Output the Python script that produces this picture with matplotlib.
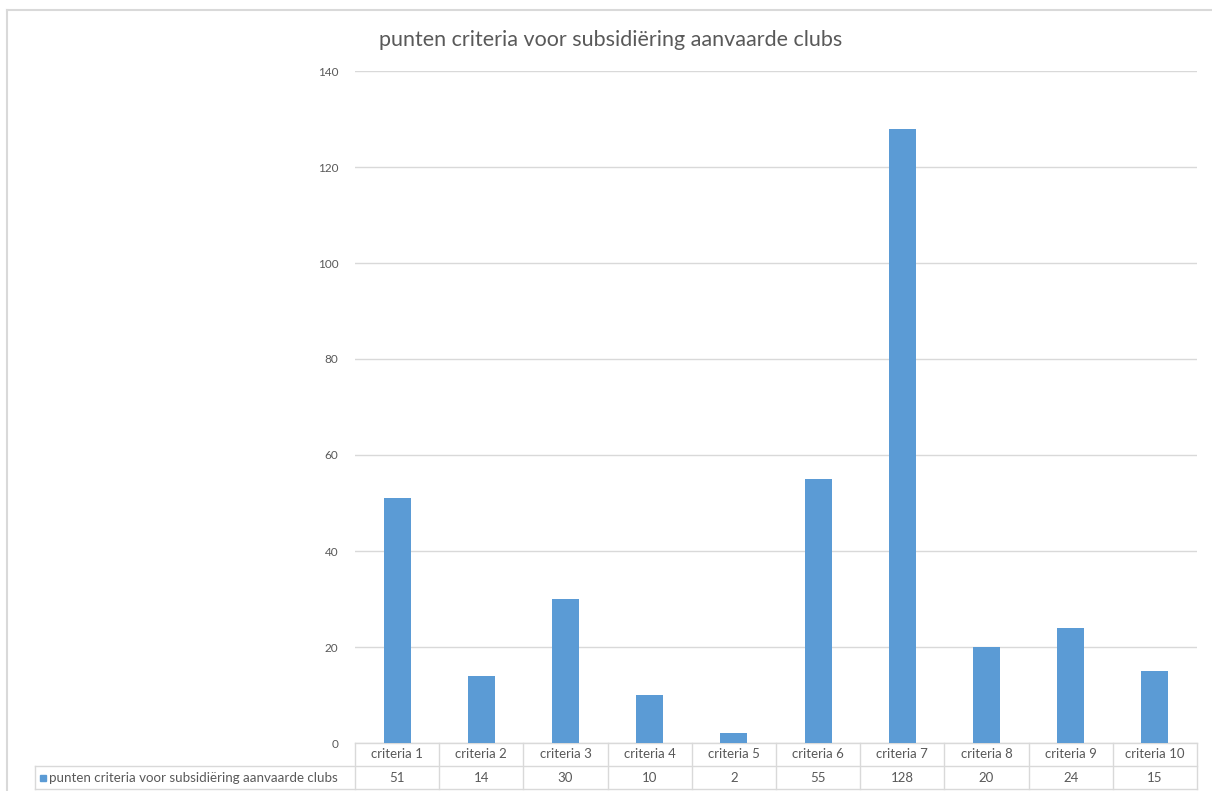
import matplotlib.pyplot as plt
from matplotlib.transforms import blended_transform_factory
from matplotlib.lines import Line2D
from matplotlib.patches import Rectangle

plt.rcParams['font.family'] = ['Lato', 'DejaVu Sans']

categories = ["criteria 1", "criteria 2", "criteria 3", "criteria 4", "criteria 5",
              "criteria 6", "criteria 7", "criteria 8", "criteria 9", "criteria 10"]
values = [51, 14, 30, 10, 2, 55, 128, 20, 24, 15]
series_name = "punten criteria voor subsidiëring aanvaarde clubs"
title = "punten criteria voor subsidiëring aanvaarde clubs"
yticks = [0, 20, 40, 60, 80, 100, 120, 140]

W, H = 1212, 791
bar_color = "#5b9bd5"
grid_color = "#d9d9d9"
text_color = "#595959"

fig = plt.figure(figsize=(W / 100, H / 100), dpi=100)
ax_l, ax_r, ax_t, ax_b = 355, 1197, 71, 743
ax = fig.add_axes([ax_l / W, 1 - ax_b / H, (ax_r - ax_l) / W, (ax_b - ax_t) / H])

x = list(range(len(categories)))
ax.bar(x, values, width=0.32, color=bar_color, zorder=3)
ax.set_xlim(-0.5, len(categories) - 0.5)
ax.set_ylim(0, 140)
ax.set_yticks(yticks)
ax.set_yticklabels([str(t) for t in yticks], color=text_color, fontsize=8.5)
ax.tick_params(axis="y", length=0, pad=12)
ax.set_xticks([])
ax.grid(axis="y", color=grid_color, linewidth=1, zorder=0)
for s in ax.spines.values():
    s.set_visible(False)

# data table below the axis
unit = (ax_r - ax_l) / len(categories)
row_h = 23 / (ax_b - ax_t)
trans = blended_transform_factory(ax.transData, ax.transAxes)
left_x = -0.5 - (ax_l - 35) / unit
n = len(categories)


def hline(x0, x1, y):
    ax.add_line(Line2D([x0, x1], [y, y], transform=trans, color=grid_color,
                       linewidth=1, clip_on=False))


def vline(xv, y0, y1):
    ax.add_line(Line2D([xv, xv], [y0, y1], transform=trans, color=grid_color,
                       linewidth=1, clip_on=False))


hline(-0.5, n - 0.5, 0)
hline(left_x, n - 0.5, -row_h)
hline(left_x, n - 0.5, -2 * row_h)
for i in range(n + 1):
    vline(i - 0.5, 0, -2 * row_h)
vline(left_x, -row_h, -2 * row_h)

for i, (c, v) in enumerate(zip(categories, values)):
    ax.text(i, -row_h / 2, c, transform=trans, ha="center", va="center",
            fontsize=9.5, color=text_color)
    ax.text(i, -1.5 * row_h, str(v), transform=trans, ha="center", va="center",
            fontsize=9.5, color=text_color)

sq = 6 / unit
ax.add_patch(Rectangle((left_x + 5 / unit, -1.5 * row_h - 3 / (ax_b - ax_t)), sq,
                       6 / (ax_b - ax_t), transform=trans, color=bar_color,
                       clip_on=False))
ax.text(left_x + 14 / unit, -1.5 * row_h, series_name, transform=trans,
        ha="left", va="center", fontsize=9.6, color=text_color)

# chart border (top and left)
fig.add_artist(Line2D([7 / W, 1], [1 - 10 / H, 1 - 10 / H], transform=fig.transFigure,
                      color=grid_color, linewidth=1.5))
fig.add_artist(Line2D([7 / W, 7 / W], [0, 1 - 10 / H], transform=fig.transFigure,
                      color=grid_color, linewidth=1.5))

fig.text(611 / W, 1 - 40 / H, title, ha="center", va="center", fontsize=15.5,
         color=text_color)

fig.savefig("out.png", dpi=100)
